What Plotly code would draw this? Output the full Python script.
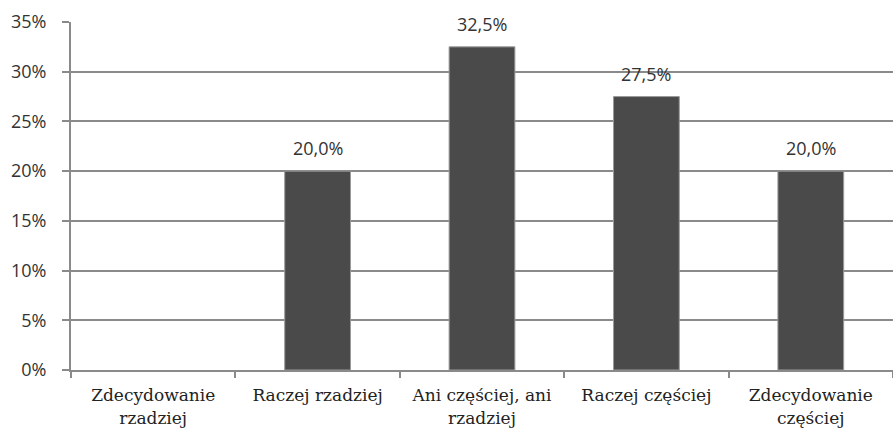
import plotly.graph_objects as go

categories = ["Zdecydowanie<br>rzadziej", "Raczej rzadziej", "Ani częściej, ani<br>rzadziej",
              "Raczej częściej", "Zdecydowanie<br>częściej"]
values = [0, 20.0, 32.5, 27.5, 20.0]
y_ticks = [0, 5, 10, 15, 20, 25, 30, 35]
y_ticklabels = ["0%", "5%", "10%", "15%", "20%", "25%", "30%", "35%"]

labels = [("" if v == 0 else f"{v:.1f}%".replace(".", ",")) for v in values]

fig = go.Figure(go.Bar(
    x=categories, y=values,
    marker=dict(color="#4a4a4a",
                line=dict(color="#9a9a9a", width=[0 if v == 0 else 1 for v in values])),
    cliponaxis=False,
))
for c, v, t in zip(categories, values, labels):
    if t:
        fig.add_annotation(x=c, y=v, text=t, showarrow=False, yanchor="bottom", yshift=9,
                           font=dict(family="Open Sans, sans-serif", size=18, color="#333333"))
fig.update_layout(
    width=893, height=432,
    margin=dict(l=71, r=0, t=22, b=62),
    paper_bgcolor="white", plot_bgcolor="white",
    bargap=0.6, showlegend=False,
)
fig.update_yaxes(
    range=[0, 35], tickvals=y_ticks, ticktext=y_ticklabels,
    showgrid=True, gridcolor="#8a8a8a", gridwidth=2,
    showline=True, linecolor="#8a8a8a", linewidth=2,
    ticks="outside", ticklen=7, tickcolor="#8a8a8a", tickwidth=2,
    ticklabelstandoff=12,
    tickfont=dict(family="Open Sans, sans-serif", size=18, color="#333333"),
    zeroline=False,
)
fig.update_xaxes(
    showline=True, linecolor="#8a8a8a", linewidth=2,
    ticks="outside", tickson="boundaries", ticklen=6, tickcolor="#8a8a8a", tickwidth=2,
    ticklabelstandoff=9,
    tickfont=dict(family="DejaVu Serif, serif", size=17, color="#222222"),
    tickangle=0,
)
fig.write_html("out.html", config={"displayModeBar": False},
               post_script="document.body.style.margin='0';window.dispatchEvent(new Event('resize'));")
